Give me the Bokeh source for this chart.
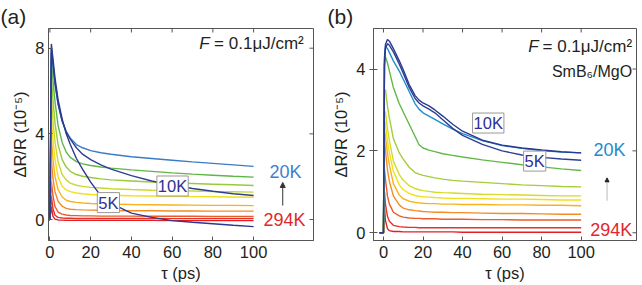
import numpy as np
from bokeh.plotting import figure
from bokeh.layouts import row
from bokeh.models import Range1d, FixedTicker, Label, Arrow, NormalHead
from bokeh.embed import file_html
from bokeh.resources import INLINE

FONT = "Liberation Sans"

# ---------------- panel (a) data ----------------
t_a = [-1, 0, 0.7, 1.5, 2.5, 4, 6, 8, 10, 13, 16, 20, 25, 30, 40, 50, 60, 70, 80, 90, 100]
a_294K = [0, 0, 0.6, 0.15, 0.02, -0.02, -0.03, -0.04, -0.04, -0.04, -0.04, -0.04, -0.04, -0.04, -0.04, -0.04, -0.05, -0.05, -0.05, -0.05, -0.05]
a_red = [0, 0, 1.1, 0.5, 0.2, 0.1, 0.07, 0.06, 0.06, 0.05, 0.05, 0.05, 0.05, 0.05, 0.05, 0.05, 0.04, 0.04, 0.04, 0.04, 0.04]
a_redor = [0, 0, 1.8, 1.1, 0.6, 0.35, 0.25, 0.21, 0.19, 0.18, 0.17, 0.17, 0.16, 0.16, 0.16, 0.15, 0.15, 0.15, 0.14, 0.14, 0.14]
a_orange = [0, 0, 2.8, 1.9, 1.3, 0.85, 0.62, 0.52, 0.48, 0.46, 0.45, 0.44, 0.43, 0.42, 0.41, 0.41, 0.40, 0.40, 0.39, 0.39, 0.39]
a_gold = [0, 0, 3.8, 2.8, 2.0, 1.4, 1.05, 0.9, 0.84, 0.8, 0.77, 0.75, 0.73, 0.72, 0.7, 0.69, 0.68, 0.67, 0.66, 0.66, 0.65]
a_yellow = [0, 0, 4.8, 3.7, 2.8, 2.0, 1.55, 1.38, 1.3, 1.24, 1.2, 1.17, 1.15, 1.13, 1.11, 1.1, 1.08, 1.07, 1.06, 1.05, 1.04]
a_ygreen = [0, 0, 5.8, 4.6, 3.6, 2.7, 2.1, 1.85, 1.7, 1.6, 1.55, 1.5, 1.47, 1.44, 1.4, 1.37, 1.35, 1.33, 1.31, 1.3, 1.28]
a_lgreen = [0, 0, 6.7, 5.6, 4.5, 3.5, 2.8, 2.45, 2.25, 2.1, 2.02, 1.96, 1.9, 1.85, 1.8, 1.75, 1.71, 1.68, 1.65, 1.62, 1.59]
a_green = [0, 0, 7.5, 6.5, 5.5, 4.4, 3.6, 3.15, 2.9, 2.7, 2.6, 2.52, 2.45, 2.4, 2.32, 2.25, 2.18, 2.12, 2.07, 2.02, 1.98]
a_20K = [0, 0, 7.8, 7.1, 6.3, 5.4, 4.6, 4.1, 3.8, 3.5, 3.35, 3.22, 3.12, 3.05, 2.93, 2.85, 2.77, 2.69, 2.62, 2.55, 2.48]
a_10K = [0, 0, 8.0, 7.3, 6.4, 5.4, 4.6, 4.1, 3.75, 3.35, 3.05, 2.8, 2.55, 2.35, 2.05, 1.8, 1.6, 1.45, 1.32, 1.2, 1.12]
a_5K = [0, 0, 8.2, 7.5, 6.6, 5.6, 4.7, 4.0, 3.5, 2.85, 2.35, 1.75, 1.1, 0.75, 0.3, 0.1, -0.05, -0.13, -0.2, -0.27, -0.33]

a_series = [a_294K, a_red, a_redor, a_orange, a_gold, a_yellow, a_ygreen, a_lgreen, a_green, a_20K, a_10K, a_5K]
a_colors = ["#e31e25", "#e6332a", "#ec5b2a", "#f28c25", "#f7b21e", "#f2df1c", "#c8da2e", "#98ca3c", "#5db647", "#3b7bc8", "#2e3f93", "#2b3990"]

# ---------------- panel (b) data ----------------
t_b = [-2, 0, 0.5, 1, 2, 3, 5, 8, 10, 13, 16, 18, 20, 23, 26, 30, 35, 40, 50, 60, 70, 80, 90, 100]
b_294K = [0, 0, 0.62, 0.3, 0.1, 0.05, 0.03, 0.03, 0.02, 0.02, 0.02, 0.02, 0.02, 0.02, 0.02, 0.02, 0.02, 0.01, 0.01, 0.01, 0.01, 0.01, 0.01, 0.01]
b_red = [0, 0, 1.0, 0.7, 0.4, 0.28, 0.18, 0.15, 0.14, 0.13, 0.13, 0.12, 0.12, 0.12, 0.12, 0.12, 0.12, 0.12, 0.12, 0.12, 0.12, 0.12, 0.12, 0.12]
b_redor = [0, 0, 1.55, 1.3, 0.9, 0.7, 0.5, 0.41, 0.38, 0.36, 0.35, 0.35, 0.34, 0.34, 0.34, 0.33, 0.33, 0.33, 0.32, 0.32, 0.31, 0.31, 0.31, 0.31]
b_orange = [0, 0, 2.25, 2.0, 1.55, 1.25, 0.9, 0.68, 0.6, 0.56, 0.54, 0.53, 0.52, 0.51, 0.5, 0.5, 0.49, 0.49, 0.48, 0.47, 0.47, 0.46, 0.45, 0.45]
b_gold = [0, 0, 2.5, 2.35, 1.95, 1.65, 1.2, 0.92, 0.83, 0.77, 0.74, 0.73, 0.72, 0.71, 0.71, 0.7, 0.7, 0.69, 0.69, 0.68, 0.68, 0.67, 0.67, 0.66]
b_yellow = [0, 0, 2.75, 2.65, 2.25, 1.95, 1.5, 1.17, 1.05, 0.96, 0.91, 0.89, 0.88, 0.87, 0.86, 0.85, 0.84, 0.84, 0.83, 0.82, 0.82, 0.81, 0.8, 0.8]
b_lime = [0, 0, 2.95, 2.95, 2.55, 2.25, 1.75, 1.42, 1.28, 1.15, 1.08, 1.05, 1.03, 1.01, 0.99, 0.98, 0.97, 0.96, 0.94, 0.93, 0.92, 0.91, 0.9, 0.9]
b_ygreen = [0, 0, 3.4, 3.5, 3.1, 2.8, 2.3, 1.95, 1.8, 1.6, 1.47, 1.43, 1.4, 1.37, 1.34, 1.31, 1.28, 1.26, 1.23, 1.2, 1.17, 1.15, 1.13, 1.12]
b_green = [0, 0, 4.1, 4.3, 4.15, 3.95, 3.55, 3.15, 2.95, 2.65, 2.35, 2.15, 2.07, 2.02, 1.98, 1.93, 1.89, 1.85, 1.78, 1.72, 1.66, 1.61, 1.56, 1.52]
b_20K = [0, 0, 4.3, 4.55, 4.5, 4.4, 4.2, 3.95, 3.75, 3.45, 3.15, 3.02, 2.93, 2.85, 2.77, 2.66, 2.53, 2.42, 2.25, 2.13, 2.06, 2.01, 1.97, 1.95]
b_5K = [0, 0, 4.1, 4.5, 4.62, 4.58, 4.42, 4.12, 3.9, 3.55, 3.28, 3.17, 3.1, 3.02, 2.93, 2.76, 2.55, 2.38, 2.16, 2.0, 1.9, 1.84, 1.8, 1.77]
b_10K = [0, 0, 4.2, 4.6, 4.72, 4.68, 4.5, 4.2, 3.98, 3.62, 3.35, 3.24, 3.17, 3.1, 3.0, 2.85, 2.65, 2.48, 2.26, 2.14, 2.07, 2.02, 1.98, 1.95]

b_series = [b_294K, b_red, b_redor, b_orange, b_gold, b_yellow, b_lime, b_ygreen, b_green, b_20K, b_5K, b_10K]
b_colors = ["#e31e25", "#e6332a", "#ec5b2a", "#f28c25", "#f7b21e", "#f2df1c", "#d2dc2c", "#a5cd39", "#62b847", "#1f8dd0", "#2e3f93", "#2b3990"]

x_ticks = [0, 20, 40, 60, 80, 100]
a_yticks = [0, 4, 8]
b_yticks = [0, 2, 4]

AX = "#555555"
TXT = "#231f20"


def make_fig(xr, yr, yticks, bl, br, bt, left_out, title, title_offset):
    p = figure(width=321, height=285, x_range=Range1d(*xr), y_range=Range1d(*yr),
               output_backend="svg", toolbar_location=None, title=title,
               min_border_left=bl, min_border_right=br, min_border_top=bt, min_border_bottom=45)
    p.title.text_font = FONT
    p.title.text_font_size = "21px"
    p.title.text_font_style = "normal"
    p.title.text_color = TXT
    p.title.align = "left"
    p.title.offset = title_offset
    p.title.standoff = 1
    p.grid.visible = False
    p.outline_line_color = AX
    p.outline_line_width = 1
    p.background_fill_color = "white"
    p.border_fill_color = "white"
    for ax in (p.xaxis[0], p.yaxis[0]):
        ax.axis_line_color = AX
        ax.major_tick_line_color = AX
        ax.minor_tick_line_color = None
        ax.major_tick_in = 4
        ax.major_tick_out = 0
        ax.major_label_text_font = FONT
        ax.major_label_text_font_size = "16.5px"
        ax.major_label_text_color = TXT
        ax.axis_label_text_font = FONT
        ax.axis_label_text_font_size = "16.5px"
        ax.axis_label_text_font_style = "normal"
        ax.axis_label_text_color = TXT
    p.xaxis[0].ticker = FixedTicker(ticks=x_ticks)
    p.yaxis[0].ticker = FixedTicker(ticks=yticks)
    p.yaxis[0].major_tick_out = left_out
    p.xaxis[0].major_label_standoff = 5
    p.yaxis[0].major_label_standoff = 4
    p.xaxis[0].axis_label = "τ (ps)"
    p.yaxis[0].axis_label = "ΔR/R (10⁻⁵)"
    p.xaxis[0].axis_label_standoff = 3
    p.yaxis[0].axis_label_standoff = 3
    # tick marks on the top and right frame edges (half of each dash is clipped by the frame)
    p.scatter(x_ticks, [yr[1]] * len(x_ticks), marker="dash", angle=np.pi / 2, size=8,
              line_color=AX, line_width=1)
    p.scatter([xr[1]] * len(yticks), yticks, marker="dash", size=8,
              line_color=AX, line_width=1)
    return p


def txt(p, x, y, s, size="16px", color=TXT, align="left", baseline="middle", style="normal", **kw):
    lab = Label(x=x, y=y, text=s, text_font=FONT, text_font_size=size, text_color=color,
                text_align=align, text_baseline=baseline, text_font_style=style, **kw)
    p.add_layout(lab)
    return lab


# ---------------- panel (a) ----------------
pa = make_fig((-0.7, 129.4), (-0.98, 8.92), a_yticks, 48, 8, 28, 0, "(a)", -48)
for ys, c in zip(a_series, a_colors):
    pa.line(t_a, ys, line_color=c, line_width=1.4)

txt(pa, 124.6, 8.22, "= 0.1μJ/cm²", size="17px", align="right")
txt(pa, 78.4, 8.22, "F", size="17px", align="right", style="italic")
txt(pa, 115.7, 2.2, "20K", size="18px", color="#3f7ecb", align="center")
txt(pa, 115.2, 0.0, "294K", size="18px", color="#e3262b", align="center")
txt(pa, 60.2, 1.565, "10K", size="16.5px", color="#2e3192", align="center",
    border_line_color="#999999", background_fill_color="white", padding=1)
txt(pa, 28.7, 0.79, "5K", size="16.5px", color="#2e3192", align="center",
    border_line_color="#999999", background_fill_color="white", padding=1)
pa.add_layout(Arrow(end=NormalHead(size=5, fill_color="#333333", line_color="#333333"),
                    x_start=114.3, y_start=0.65, x_end=114.3, y_end=1.73,
                    line_color="#333333", line_width=1))

# ---------------- panel (b) ----------------
pb = make_fig((-5.05, 128), (-0.19, 4.99), b_yticks, 52, 6, 27, 4, "(b)", -46)
for ys, c in zip(b_series, b_colors):
    pb.line(t_b, ys, line_color=c, line_width=1.4)

txt(pb, 125.8, 4.55, "= 0.1μJ/cm²", size="17px", align="right")
txt(pb, 78.5, 4.55, "F", size="17px", align="right", style="italic")
txt(pb, 125.8, 3.94, "SmB₆/MgO", size="16px", align="right")
txt(pb, 114.4, 2.02, "20K", size="18px", color="#1d8bcf", align="center")
txt(pb, 115.2, 0.07, "294K", size="18px", color="#e3262b", align="center")
txt(pb, 53.0, 2.68, "10K", size="16.5px", color="#2e3192", align="center",
    border_line_color="#999999", background_fill_color="white", padding=1)
txt(pb, 76.5, 1.75, "5K", size="16.5px", color="#2e3192", align="center",
    border_line_color="#999999", background_fill_color="white", padding=1)
pb.add_layout(Arrow(end=NormalHead(size=4, fill_color="#222222", line_color="#222222"),
                    x_start=113.1, y_start=0.78, x_end=113.1, y_end=1.34,
                    line_color="#bbbbbb", line_width=1))

layout = row(pa, pb)
open("out.html", "w").write(file_html(layout, INLINE))
